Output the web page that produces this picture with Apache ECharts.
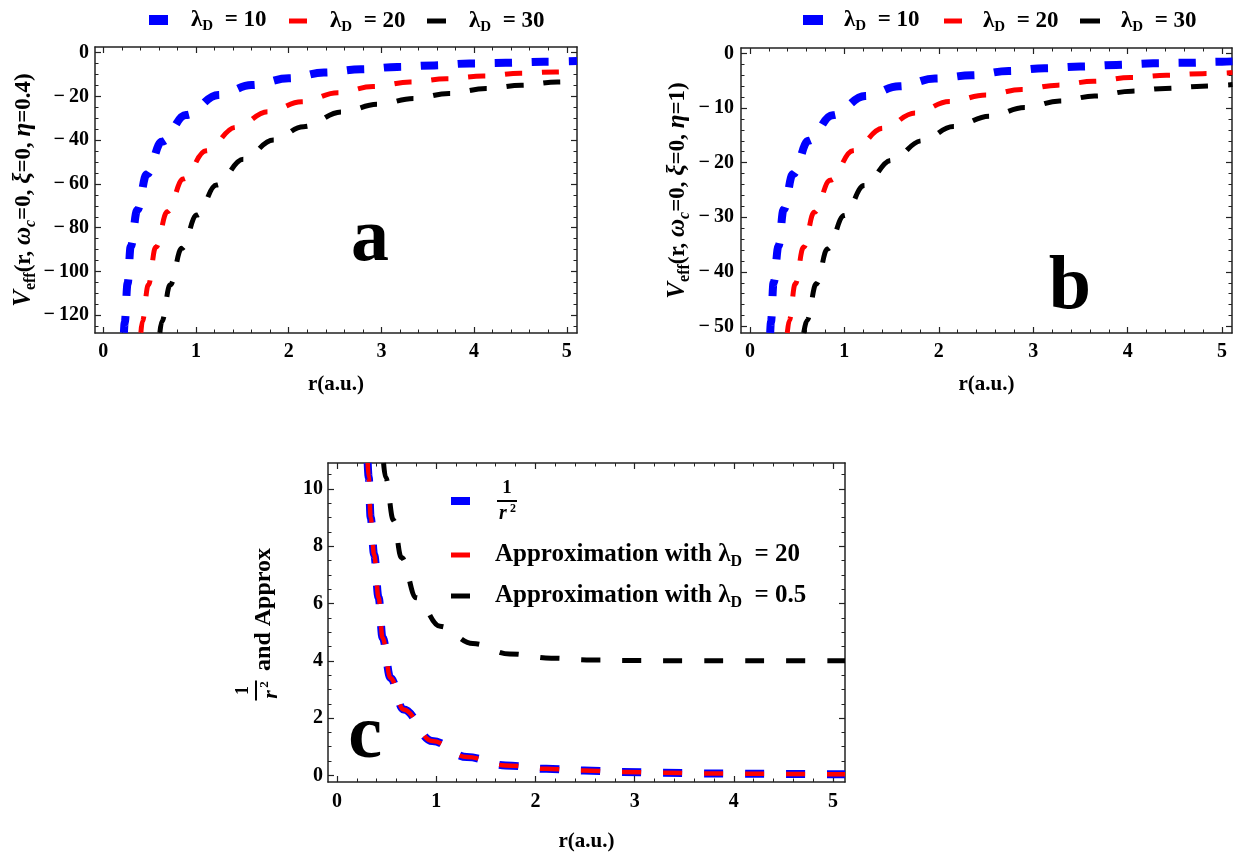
<!DOCTYPE html>
<html><head><meta charset="utf-8">
<script src="https://cdn.jsdelivr.net/npm/echarts@6/dist/echarts.min.js"></script>
<style>html,body{margin:0;padding:0;background:#fff;}#c{width:1253px;height:859px;}</style>
</head><body><div id="c"></div>
<script>
// ---------- Panel a data (r, V_eff) ----------
const aR10 = [0.222,0.23,0.262,0.295,0.366,0.468,0.63,0.89,1.24,1.60,2.0,2.38,2.78,3.17,3.57,3.95,4.34,4.75,5.11];
const aV10 = [-128,-123.4,-105.4,-88.7,-71.9,-55.6,-40.7,-28.5,-19.3,-14.8,-11.7,-9.1,-7.6,-6.5,-5.8,-4.9,-4.6,-4.1,-3.8];
const aR20 = [0.405,0.42,0.485,0.565,0.69,0.863,1.108,1.43,1.774,2.14,2.53,2.91,3.31,3.70,4.10,4.50,4.88,5.11];
const aV20 = [-128,-122.9,-106.2,-88.9,-72.7,-57.7,-44.8,-34.1,-27.0,-22.4,-18.3,-15.5,-13.4,-11.9,-10.7,-9.4,-8.8,-8.4];
const aR30 = [0.61,0.63,0.72,0.846,1.01,1.22,1.51,1.835,2.16,2.57,2.96,3.35,3.73,4.13,4.51,4.90,5.11];
const aV30 = [-128,-122.9,-106.2,-89.4,-74.2,-60.5,-48.7,-39.9,-33.8,-27.1,-23.6,-20.9,-18.6,-16.4,-14.9,-13.4,-13.0];
// ---------- Panel b data ----------
const bR10 = [0.215,0.223,0.251,0.304,0.357,0.456,0.62,0.875,1.22,1.58,1.96,2.35,2.74,3.12,3.50,3.88,4.27,4.66,5.0,5.11];
const bV10 = [-51.2,-49.2,-42.0,-35.2,-28.6,-22.1,-16.0,-11.3,-7.8,-6.0,-4.6,-4.0,-3.2,-2.7,-2.4,-2.1,-1.8,-1.7,-1.5,-1.45];
const bR20 = [0.396,0.417,0.48,0.568,0.681,0.851,1.091,1.408,1.75,2.113,2.50,2.88,3.26,3.64,4.03,4.41,4.79,5.11];
const bV20 = [-51.2,-48.9,-42.2,-35.5,-29.1,-23.2,-17.8,-13.7,-10.9,-8.8,-7.6,-6.6,-5.8,-5.1,-4.4,-4.0,-3.7,-3.5];
const bR30 = [0.57,0.604,0.703,0.822,0.999,1.21,1.496,1.82,2.156,2.54,2.91,3.28,3.65,4.04,4.40,4.79,5.11];
const bV30 = [-51.2,-48.9,-42.2,-35.8,-29.7,-24.2,-19.6,-16.0,-13.4,-11.5,-9.9,-8.7,-7.8,-6.9,-6.4,-6.0,-5.7];
// ---------- Panel c data ----------
const cRinv = [0.31,0.32,0.34,0.375,0.42,0.46,0.54,0.67,0.96,1.31,1.70,2.11,2.49,2.88,3.29,3.70,4.11,4.53,4.92,5.12];
const cVinv = [10.9,10.4,9.0,7.7,6.2,4.8,3.4,2.3,1.2,0.64,0.35,0.23,0.17,0.12,0.09,0.07,0.06,0.05,0.04,0.04];
const cR20 = [0.31,0.32,0.34,0.375,0.42,0.46,0.54,0.67,0.96,1.31,1.70,2.11,2.49,2.88,3.29,3.70,4.11,4.53,4.92,5.12];
const cV20 = [10.9,10.4,9.0,7.7,6.2,4.8,3.4,2.3,1.2,0.64,0.35,0.23,0.17,0.12,0.09,0.07,0.06,0.05,0.04,0.04];
const cR05 = [0.47,0.49,0.57,0.65,0.80,1.04,1.37,1.74,2.16,2.57,2.98,3.5,4.0,4.5,5.12];
const cV05 = [10.9,10.4,8.9,7.6,6.2,5.2,4.6,4.24,4.09,4.03,4.01,4.0,4.0,4.0,4.0];
// ---------- tick labels ----------
const rTicks = [0,1,2,3,4,5];
const aYTicks = [0,-20,-40,-60,-80,-100,-120];
const bYTicks = [0,-10,-20,-30,-40,-50];
const cYTicks = [0,2,4,6,8,10];
// ---------- names ----------
const lamNames = ['λD = 10','λD = 20','λD = 30'];
const cNames = ['1/r²','Approximation with λD = 20','Approximation with λD = 0.5'];

const FONT = "'Liberation Serif','Times New Roman',serif";
const FRAME = '#222';
function fmtNum(v){ return v < 0 ? '\u2212\u2009' + Math.abs(v) : String(v); }
function steps(a, b, st){ const o=[]; const n=Math.round((b-a)/st); for(let i=0;i<=n;i++) o.push(+(a+i*st).toFixed(4)); return o; }
function B(extra){ return Object.assign({fontFamily:FONT, fontWeight:'bold', color:'#000'}, extra||{}); }

function axisSet(dim, grid, min, max, majors, minors, o){
  const posA = dim==='x' ? 'bottom' : 'left';
  const posB = dim==='x' ? 'top' : 'right';
  const base = {type:'value', gridIndex:grid, min:min, max:max, splitLine:{show:false}, silent:true, nameMoveOverlap:false};
  const line = {show:true, onZero:false, lineStyle:{color:FRAME, width:1.5}};
  const noLine = {show:false, onZero:false};
  const tMaj = {show:true, inside:true, length:6, customValues:majors, lineStyle:{color:FRAME, width:1.2}};
  const tMin = {show:true, inside:true, length:3.5, customValues:minors, lineStyle:{color:FRAME, width:1}};
  return [
    Object.assign({}, base, {position:posA, axisLine:line, axisTick:tMaj,
      axisLabel:B({show:true, customValues:majors, margin:o.margin, formatter:fmtNum, fontSize:20}),
      name:o.name, nameLocation:'middle', nameGap:o.nameGap, nameRotate: dim==='y'?90:0, nameTextStyle:o.nameStyle}),
    Object.assign({}, base, {position:posA, axisLine:noLine, axisTick:tMin, axisLabel:{show:false}}),
    Object.assign({}, base, {position:posB, axisLine:line, axisTick:tMaj, axisLabel:{show:false}}),
    Object.assign({}, base, {position:posB, axisLine:noLine, axisTick:tMin, axisLabel:{show:false}})
  ];
}

const xName = {name:'r(a.u.)', nameStyle:B({fontSize:21})};
const yRich = {
  i:B({fontSize:25, fontStyle:'italic', lineHeight:26}),
  t:B({fontSize:23, lineHeight:26}),
  s:B({fontSize:16, lineHeight:13, padding:[13,0,0,0]}),
  si:B({fontSize:16, fontStyle:'italic', lineHeight:13, padding:[13,0,0,0]})
};
function yTitle(eta){ return '{i|V}{s|eff}{t|(r, }{i|ω}{si|c}{t|=0, }{i|ξ}{t|=0, }{i|η}{t|=' + eta + ')}'; }
const cYRich = {
  n:B({fontSize:18, width:20, align:'center', lineHeight:20}),
  sp:B({fontSize:1, width:136, lineHeight:6}),
  bar:{fontSize:1, width:20, height:2, backgroundColor:'#000', lineHeight:2},
  r:B({fontSize:22, fontStyle:'italic', width:12, align:'right', lineHeight:22}),
  sup:B({fontSize:13, width:8, align:'left', lineHeight:12, padding:[0,0,12,0]}),
  g:B({fontSize:1, width:6}),
  t:B({fontSize:24, width:130, align:'left', lineHeight:24, padding:[0,0,14,0]})
};
const cYTitle = '{n|1}{sp| }\n{bar| }{sp| }\n{r|r}{sup|2}{g| }{t|and Approx}';

const xAxes = [].concat(
  axisSet('x',0,-0.09,5.11,rTicks,steps(0,5,0.2),Object.assign({margin:9,nameGap:41},xName)),
  axisSet('x',1,-0.094,5.105,rTicks,steps(0,5,0.2),Object.assign({margin:9,nameGap:41},xName)),
  axisSet('x',2,-0.09,5.12,rTicks,steps(0,5,0.2),Object.assign({margin:10,nameGap:49},xName))
);
const yAxes = [].concat(
  axisSet('y',0,-128.1,2.6,aYTicks,steps(-125,0,5),{margin:6,nameGap:58,name:yTitle('0.4'),nameStyle:{rich:yRich}}),
  axisSet('y',1,-51.2,1.0,bYTicks,steps(-50,0,2),{margin:7,nameGap:50,name:yTitle('1'),nameStyle:{rich:yRich}}),
  axisSet('y',2,-0.23,10.9,cYTicks,steps(0,10.5,0.5),{margin:5,nameGap:45,name:cYTitle,nameStyle:{rich:cYRich}})
);

function mk(name, xs, ys, ax, color, width, dash, z){
  return {type:'line', name:name, xAxisIndex:ax, yAxisIndex:ax, data:xs.map((x,i)=>[x,ys[i]]),
    symbol:'none', showSymbol:false, smooth:0.4, smoothMonotone:'x', clip:true, color:color, z:z,
    lineStyle:{color:color, width:width, type:dash, cap:'butt', join:'round'}, itemStyle:{color:color},
    emphasis:{disabled:true}, animation:false, silent:true};
}
const dAB = [17,20], dC = [19,22];
const series = [
  mk(lamNames[0], aR10, aV10, 0, '#0000ff', 8, dAB, 2),
  mk(lamNames[1], aR20, aV20, 0, '#ff0000', 5, dAB, 3),
  mk(lamNames[2], aR30, aV30, 0, '#000000', 5, dAB, 4),
  mk(lamNames[0], bR10, bV10, 4, '#0000ff', 8, dAB, 2),
  mk(lamNames[1], bR20, bV20, 4, '#ff0000', 5, dAB, 3),
  mk(lamNames[2], bR30, bV30, 4, '#000000', 5, dAB, 4),
  mk(cNames[0], cRinv, cVinv, 8, '#0000ff', 8, dC, 2),
  mk(cNames[1], cR20, cV20, 8, '#ff0000', 4.5, dC, 3),
  mk(cNames[2], cR05, cV05, 8, '#000000', 5, dC, 4)
];

function legRich(size, padLeft){
  return {
    l:B({fontSize:size, lineHeight:26, padding:[0,0,0,padLeft]}),
    s:B({fontSize:Math.round(size*0.65), lineHeight:13, padding:[13,0,0,0]}),
    t:B({fontSize:size, lineHeight:26})
  };
}
function lamText(name){ const v = name.split('= ')[1]; return '{l|λ}{s|D}{t|\u2002= ' + v + '}'; }
function leg(name, left, top, w, h, color, text, rich){
  return {data:[{name:name, icon:'rect'}], left:left, top:top, padding:0, itemWidth:w, itemHeight:h,
    selectedMode:false, itemStyle:{color:color, borderWidth:0}, formatter:function(){return text;},
    textStyle:{rich:rich, color:'#000', fontFamily:FONT, fontWeight:'bold'}};
}
const cLegRich = function(pad){ return {
  a:B({fontSize:25, lineHeight:28, padding:[0,0,0,pad]}),
  l:B({fontSize:25, lineHeight:28}),
  s:B({fontSize:16, lineHeight:14, padding:[14,0,0,0]}),
  t:B({fontSize:25, lineHeight:28})
};};
const fracRich = {
  sp:B({fontSize:1, width:22, lineHeight:6}),
  n:B({fontSize:19, width:20, align:'center', lineHeight:19}),
  bar:{fontSize:1, width:20, height:2, backgroundColor:'#000', lineHeight:2},
  r:B({fontSize:20, fontStyle:'italic', width:12, align:'right', lineHeight:19}),
  sup:B({fontSize:12, width:8, align:'left', lineHeight:10, padding:[0,0,10,0]})
};
const legends = [
  leg(lamNames[0], 149, 6, 19, 10, '#0000ff', lamText(lamNames[0]), legRich(23,18)),
  leg(lamNames[1], 289, 7, 18, 5, '#ff0000', lamText(lamNames[1]), legRich(23,18)),
  leg(lamNames[2], 427, 7, 19, 5, '#000000', lamText(lamNames[2]), legRich(23,18)),
  leg(lamNames[0], 803, 6, 20, 10, '#0000ff', lamText(lamNames[0]), legRich(23,16)),
  leg(lamNames[1], 944, 7, 18, 5, '#ff0000', lamText(lamNames[1]), legRich(23,16)),
  leg(lamNames[2], 1080, 7, 20, 5, '#000000', lamText(lamNames[2]), legRich(23,16)),
  leg(cNames[0], 451, 479, 19, 8, '#0000ff', '{sp| }{n|1}\n{sp| }{bar| }\n{sp| }{r|r}{sup|2}', fracRich),
  leg(cNames[1], 451, 540, 19, 5, '#ff0000', '{a|Approximation with }{l|λ}{s|D}{t|\u2002= 20}', cLegRich(20)),
  leg(cNames[2], 451, 581, 19, 5, '#000000', '{a|Approximation with }{l|λ}{s|D}{t|\u2002= 0.5}', cLegRich(20))
];

const chart = echarts.init(document.getElementById('c'), null, {renderer:'canvas'});
chart.setOption({
  backgroundColor:'#ffffff',
  animation:false,
  grid:[
    {left:95, top:47, width:482, height:286, outerBoundsMode:'none', containLabel:false},
    {left:741, top:48, width:491, height:285, outerBoundsMode:'none', containLabel:false},
    {left:328, top:463, width:517, height:319, outerBoundsMode:'none', containLabel:false}
  ],
  xAxis:xAxes, yAxis:yAxes, legend:legends, series:series,
  graphic:[
    {type:'text', x:370, y:240, style:{text:'a', font:"bold 76px 'Liberation Serif'", fill:'#000', align:'center', verticalAlign:'middle'}},
    {type:'text', x:1070, y:288, style:{text:'b', font:"bold 76px 'Liberation Serif'", fill:'#000', align:'center', verticalAlign:'middle'}},
    {type:'text', x:365, y:737, style:{text:'c', font:"bold 76px 'Liberation Serif'", fill:'#000', align:'center', verticalAlign:'middle'}}
  ]
});
</script></body></html>
